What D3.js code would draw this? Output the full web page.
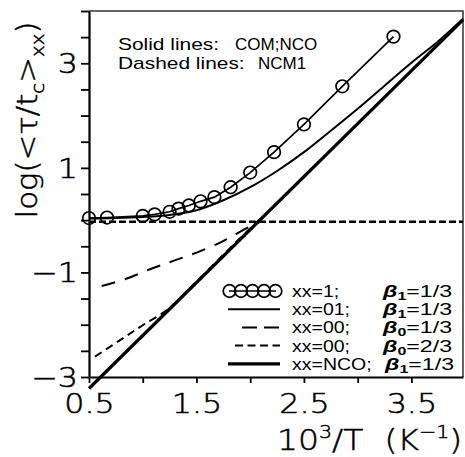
<!DOCTYPE html>
<html>
<head>
<meta charset="utf-8">
<script src="https://cdn.jsdelivr.net/npm/d3@7"></script>
<style>
  body { margin: 0; background: #fff; }
  text { fill: #000; white-space: pre; }
  .big { font-family: "DejaVu Sans", sans-serif; font-weight: 200; stroke: #000; stroke-width: 0.5; }
  .small { font-family: "Liberation Sans", Arial, sans-serif; }
</style>
</head>
<body>
<div id="plot"></div>
<script>
// data (x = 10^3/T, y = log <tau/tc>)
const invT = [0.5, 0.667, 1.0, 1.111, 1.25, 1.333, 1.429, 1.538, 1.667, 1.818, 2.0, 2.222, 2.5, 2.857, 3.333];
const logTau1 = [0.04, 0.05, 0.08, 0.11, 0.16, 0.22, 0.28, 0.36, 0.44, 0.63, 0.91, 1.30, 1.83, 2.56, 3.51];

const x01 = [0.5, 0.75, 1.0, 1.25, 1.5, 1.75, 2.0, 2.25, 2.5, 2.75, 3.0, 3.25, 3.5, 3.75, 3.98];
const logTau01 = [0.03, 0.04, 0.06, 0.10, 0.19, 0.38, 0.63, 0.94, 1.30, 1.71, 2.13, 2.57, 3.01, 3.42, 3.85];

const x00a = [0.618, 0.835, 1.067, 1.284, 1.502, 1.72, 1.812, 2.01, 2.107];
const logTau00a = [-1.26, -1.13, -0.94, -0.78, -0.62, -0.43, -0.33, -0.11, -0.02];

const x00b = [0.556, 0.8, 1.0, 1.238, 1.4, 1.6, 1.8, 2.0, 2.107];
const logTau00b = [-2.61, -2.28, -2.01, -1.70, -1.38, -0.97, -0.56, -0.16, 0.05];

const xFlat = [0.5, 3.98];
const logTauFlat = [-0.03, -0.03];

const xNco = [0.5, 3.98];
const logTauNco = [-3.22, 3.83];

const xTicks = [0.5, 1, 1.5, 2, 2.5, 3, 3.5];
const xLabels = [0.5, 1.5, 2.5, 3.5];
const yTicks = d3.range(-3, 4.001, 0.5);
const yLabels = [3, 1, -1, -3];

const legendRows = [
  { xx: "xx=1;", beta: "1", val: "1/3" },
  { xx: "xx=01;", beta: "1", val: "1/3" },
  { xx: "xx=00;", beta: "0", val: "1/3" },
  { xx: "xx=00;", beta: "0", val: "2/3" },
  { xx: "xx=NCO;", beta: "1", val: "1/3" }
];

const width = 465, height = 457;
const margin = { top: 11, right: 2, bottom: 80, left: 89 };

const svg = d3.select("#plot").append("svg")
    .attr("width", width)
    .attr("height", height);

const x = d3.scaleLinear().domain([0.5, 3.98]).range([margin.left, width - margin.right]);
const y = d3.scaleLinear().domain([-3, 4]).range([height - margin.bottom, margin.top]);

const zip = (xs, ys) => xs.map((d, i) => [d, ys[i]]);
const line = d3.line().x(d => x(d[0])).y(d => y(d[1]));
const curve = d3.line().x(d => x(d[0])).y(d => y(d[1])).curve(d3.curveCatmullRom);

// frame (top and right)
svg.append("path")
    .attr("d", `M${x(0.5)},${y(4)}H${x(3.98)}V${y(-3)}`)
    .attr("fill", "none")
    .attr("stroke", "#333")
    .attr("stroke-width", 1.5);

// axes
const xAxis = svg.append("g")
    .attr("transform", `translate(0,${y(-3)})`)
    .call(d3.axisBottom(x).tickValues(xTicks).tickSize(6).tickSizeOuter(0)
        .tickFormat(d => xLabels.includes(d) ? d3.format(".1f")(d) : ""));
const yAxis = svg.append("g")
    .attr("transform", `translate(${x(0.5)},0)`)
    .call(d3.axisLeft(y).tickValues(yTicks).tickSize(8).tickSizeOuter(0)
        .tickFormat(d => yLabels.includes(d) ? d3.format("d")(d) : ""));

[xAxis, yAxis].forEach(g => {
  g.attr("font-family", null);
  g.select(".domain").attr("stroke-width", 2.2);
  g.selectAll(".tick line").attr("stroke-width", 1.8);
  g.selectAll("text").attr("class", "big").style("font-size", "26px").attr("fill", "#000");
});
xAxis.selectAll("text").attr("y", null).attr("dy", null)
    .attr("transform", "translate(0,36) scale(1.22,1)");
yAxis.selectAll("text").attr("x", null).attr("dy", "0.36em")
    .attr("transform", "translate(-11,0) scale(1.22,1)");

// axis titles
const xt = svg.append("text").attr("class", "big")
    .attr("transform", "translate(277,450) scale(1.14,1)")
    .style("font-size", "29px");
xt.append("tspan").text("10");
xt.append("tspan").attr("dy", -12).style("font-size", "18px").text("3");
xt.append("tspan").attr("dy", 12).text("/T  (K");
xt.append("tspan").attr("dy", -12).style("font-size", "18px").text("\u22121");
xt.append("tspan").attr("dy", 12).text(")");

const yt = svg.append("text").attr("class", "big")
    .attr("transform", "translate(37,120) rotate(-90) scale(1.1,1)")
    .attr("text-anchor", "middle")
    .style("font-size", "28px");
yt.append("tspan").text("log(<\u03c4/t");
yt.append("tspan").attr("dy", 7).style("font-size", "18px").text("c");
yt.append("tspan").attr("dy", -7).text(">");
yt.append("tspan").attr("dy", 7).style("font-size", "18px").text("xx");
yt.append("tspan").attr("dy", -7).text(")");

// annotation
const note = [["Solid lines:", "COM;NCO", 50, 235], ["Dashed lines:", "NCM1", 69, 258]];
note.forEach(n => {
  svg.append("text").attr("class", "small").attr("transform", `translate(118,${n[2]}) scale(1.23,1)`)
      .style("font-size", "17px").text(n[0]);
  svg.append("text").attr("class", "small").attr("transform", `translate(${n[3]},${n[2]}) scale(1.0,1)`)
      .style("font-size", "17px").text(n[1]);
});

// series
svg.append("path").datum(zip(xFlat, logTauFlat)).attr("d", line)
    .attr("fill", "none").attr("stroke", "#000").attr("stroke-width", 2.4)
    .attr("stroke-dasharray", "7,3");
svg.append("path").datum(zip(x00a, logTau00a)).attr("d", curve)
    .attr("fill", "none").attr("stroke", "#000").attr("stroke-width", 2)
    .attr("stroke-dasharray", "14,10");
svg.append("path").datum(zip(x00b, logTau00b)).attr("d", curve)
    .attr("fill", "none").attr("stroke", "#000").attr("stroke-width", 2)
    .attr("stroke-dasharray", "8,5");
svg.append("path").datum(zip(x01, logTau01)).attr("d", curve)
    .attr("fill", "none").attr("stroke", "#000").attr("stroke-width", 2);
svg.append("path").datum(zip(xNco, logTauNco)).attr("d", line)
    .attr("fill", "none").attr("stroke", "#000").attr("stroke-width", 3.2);
svg.append("path").datum(zip(invT, logTau1)).attr("d", line)
    .attr("fill", "none").attr("stroke", "#000").attr("stroke-width", 1.7);
svg.selectAll("circle.pt").data(zip(invT, logTau1)).join("circle")
    .attr("class", "pt")
    .attr("cx", d => x(d[0])).attr("cy", d => y(d[1])).attr("r", 6.3)
    .attr("fill", "none").attr("stroke", "#000").attr("stroke-width", 1.7);

// legend
const lg = svg.append("g");
const rowY = i => 291 + i * 18.2;
const samples = [
  { w: 1.7, dash: null, x0: 229, x1: 276 },
  { w: 2, dash: null, x0: 228, x1: 280 },
  { w: 2, dash: "15,7", x0: 242, x1: 280 },
  { w: 2, dash: "8,4.5", x0: 235, x1: 280 },
  { w: 3.2, dash: null, x0: 228, x1: 280 }
];
legendRows.forEach((r, i) => {
  const s = samples[i];
  lg.append("line").attr("x1", s.x0).attr("x2", s.x1)
      .attr("y1", rowY(i)).attr("y2", rowY(i))
      .attr("stroke", "#000").attr("stroke-width", s.w)
      .attr("stroke-dasharray", s.dash);
  if (i === 0) {
    lg.selectAll("circle.lg").data(d3.range(5)).join("circle")
        .attr("class", "lg")
        .attr("cx", k => 229.5 + k * 11.5).attr("cy", rowY(0)).attr("r", 6.3)
        .attr("fill", "none").attr("stroke", "#000").attr("stroke-width", 1.7);
  }
  lg.append("text").attr("class", "small").attr("transform", `translate(292,${rowY(i) + 6}) scale(1.22,1)`)
      .style("font-size", "16px").text(r.xx);
  const b = lg.append("text").attr("class", "small")
      .attr("transform", `translate(${i === 4 ? 385 : 383},${rowY(i) + 6}) scale(1.45,1)`)
      .style("font-size", "16px");
  b.append("tspan").style("font-weight", "bold").style("font-style", "italic").text("\u03b2");
  b.append("tspan").attr("dy", 3).style("font-size", "11px").style("font-weight", "bold").text(r.beta);
  b.append("tspan").attr("dy", -3).text("=" + r.val);
});
</script>
</body>
</html>
